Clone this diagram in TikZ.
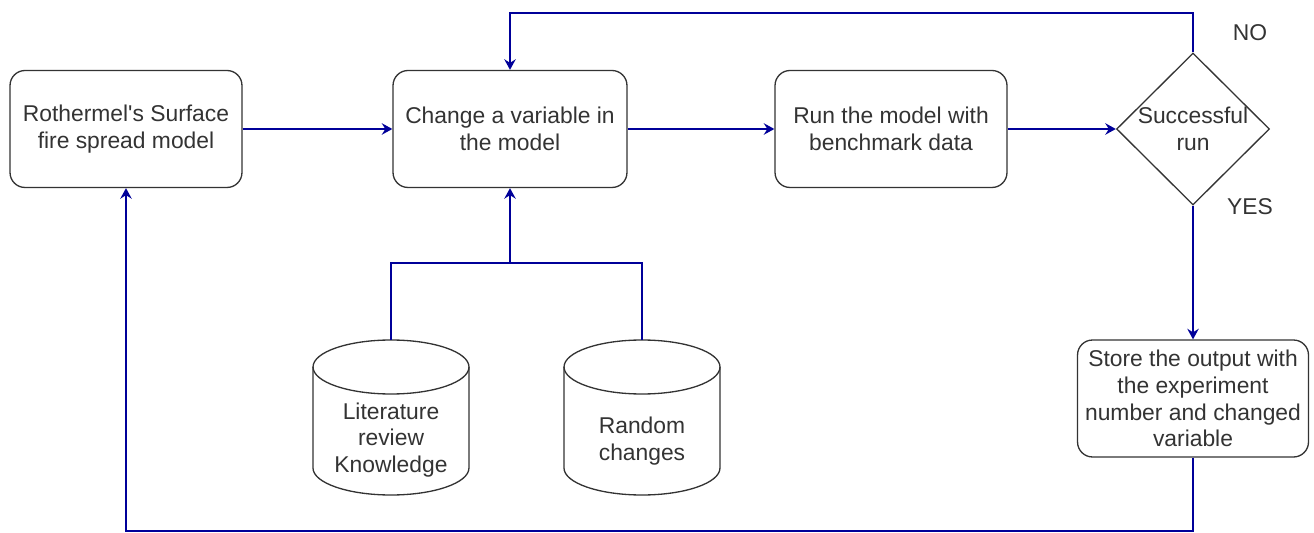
\documentclass[tikz,border=0pt]{standalone}
\usepackage{fontspec}
\setmainfont{Liberation Sans}
\usetikzlibrary{arrows.meta,shapes.geometric}
\definecolor{linkblue}{RGB}{0,0,153}
\definecolor{txt}{RGB}{51,51,51}
\tikzset{
  every node/.style={font=\fontsize{13}{15.3}\selectfont, text=txt},
  procbox/.style={draw=txt, line width=0.75pt, rounded corners=0.3cm, align=center, inner sep=0pt,
    minimum height=2.34cm},
  decision/.style={draw=txt, line width=0.75pt, diamond, inner sep=0pt, minimum width=3.06cm, minimum height=3.04cm},
  cylbox/.style={rectangle, inner sep=0pt, minimum width=3.12cm, minimum height=3.1cm},
  cylline/.style={draw=txt, line width=0.75pt},
  link/.style={draw=linkblue, line width=1.2pt},
  arrowlink/.style={link, -{Stealth[length=6pt, width=6.5pt, inset=2pt]}},
}
\begin{document}
\begin{tikzpicture}[x=0.02cm, y=-0.02cm]
\useasboundingbox (0,0) rectangle (1314,533);

\node[procbox, minimum width=4.64cm] (b1) at (126,129) {Rothermel\textquotesingle s Surface\\fire spread model};
\node[procbox, minimum width=4.68cm] (b2) at (510,129) {Change a variable in\\the model};
\node[procbox, minimum width=4.64cm] (b3) at (891,129) {Run the model with\\benchmark data};
\node[decision, label={[align=center]center:Successful\\run}] (dia) at (1193,129) {};
\node[procbox, minimum width=4.62cm] (st) at (1193,398.5) {Store the output with\\the experiment\\number and changed\\variable};

\node[cylbox, label={[align=center, yshift=-0.45cm]center:Literature\\review\\Knowledge}] (c1) at (391,417.5) {};
\node[cylbox, label={[align=center, yshift=-0.48cm]center:Random\\changes}] (c2) at (642,417.5) {};

% cylinders
\draw[cylline] (391,367) ellipse [x radius=1.56cm, y radius=0.54cm];
\draw[cylline] (313,367) -- (313,468) arc[start angle=180, end angle=360, x radius=1.56cm, y radius=0.54cm] -- (469,367);
\draw[cylline] (642,367) ellipse [x radius=1.56cm, y radius=0.54cm];
\draw[cylline] (564,367) -- (564,468) arc[start angle=180, end angle=360, x radius=1.56cm, y radius=0.54cm] -- (720,367);

\node (no) at (1250,33) {NO};
\node (yes) at (1250,207) {YES};

\coordinate (j) at (510,263);
\coordinate (t) at (510,13);
\coordinate (bt) at (126,531);

\draw[arrowlink] (b1) -- (b2);
\draw[arrowlink] (b2) -- (b3);
\draw[arrowlink] (b3) -- (dia.west);
\draw[arrowlink] (dia.north) |- (t) -- (b2.north);
\draw[arrowlink] (dia.south) -- (st.north);
\draw[arrowlink] (st.south) |- (bt) -- (b1.south);
\draw[link] (c1.north) |- (j) -| (c2.north);
\draw[arrowlink] (j) -- (b2.south);
\end{tikzpicture}
\end{document}
